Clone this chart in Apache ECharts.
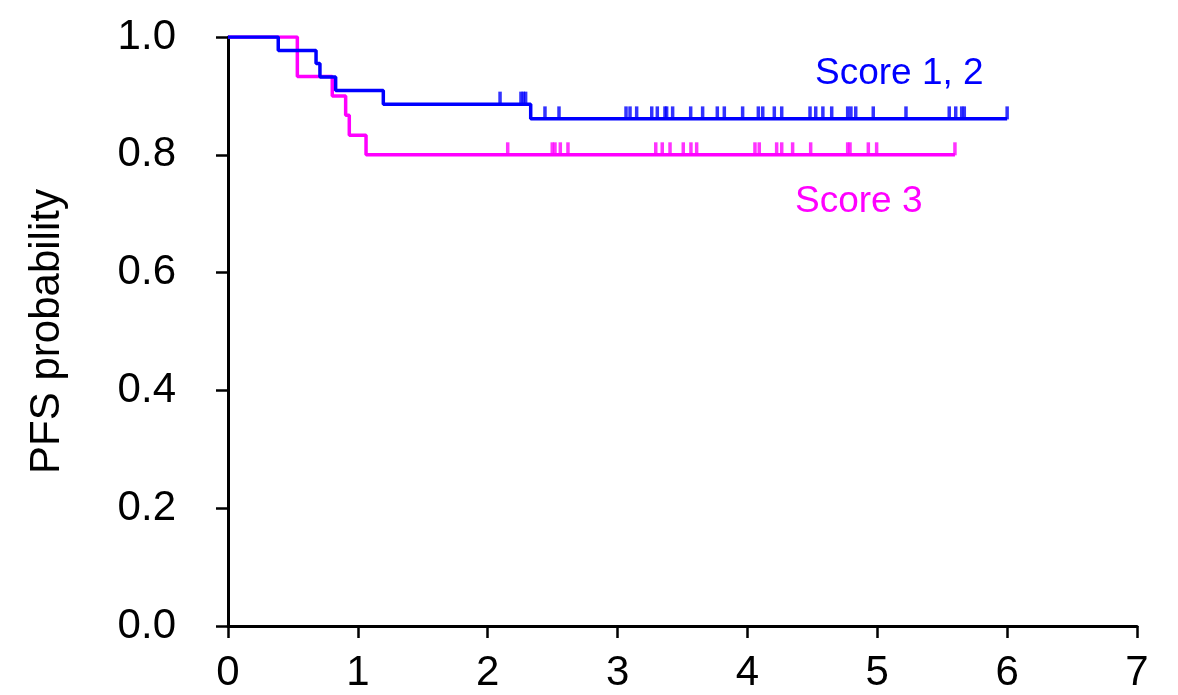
<!DOCTYPE html>
<html>
<head>
<meta charset="utf-8">
<script src="https://cdn.jsdelivr.net/npm/echarts@6/dist/echarts.min.js"></script>
<style>
html,body{margin:0;padding:0;background:#fff;}
#chart{width:1178px;height:695px;}
</style>
</head>
<body>
<div id="chart"></div>
<script>
// Score 1, 2 (blue) – event times and survival after each event
const blueEventTimes = [0.387, 0.678, 0.708, 0.829, 1.196, 2.331];
const blueEventSurv  = [0.977, 0.955, 0.932, 0.909, 0.886, 0.861];
const blueEndTime = 6.0;
const blueCensor = [2.095, 2.256, 2.274, 2.292, 2.441, 2.549, 3.065, 3.096, 3.147,
  3.263, 3.306, 3.365, 3.378, 3.424, 3.563, 3.655, 3.768, 3.822, 3.963,
  4.084, 4.118, 4.207, 4.264, 4.482, 4.526, 4.581, 4.649, 4.772, 4.797,
  4.834, 4.969, 5.221, 5.554, 5.604, 5.650, 5.670, 6.0];

// Score 3 (magenta)
const magEventTimes = [0.534, 0.803, 0.906, 0.934, 1.063];
const magEventSurv  = [0.933, 0.900, 0.867, 0.833, 0.800];
const magEndTime = 5.598;
const magCensor = [2.154, 2.497, 2.518, 2.559, 2.618, 3.294, 3.344, 3.404, 3.506,
  3.565, 3.609, 4.058, 4.091, 4.225, 4.264, 4.348, 4.487, 4.772, 4.790,
  4.931, 4.995, 5.598];

const xTicks = [0, 1, 2, 3, 4, 5, 6, 7];
const yTicks = [0.0, 0.2, 0.4, 0.6, 0.8, 1.0];

const seriesNames = ['Score 1, 2', 'Score 3'];
const BLUE = '#0000FF', MAG = '#FF00FF';
const FONT = 'Liberation Sans, Arial, sans-serif';

function stepData(times, surv, end) {
  const d = [[0, 1]];
  for (let i = 0; i < times.length; i++) d.push([times[i], surv[i]]);
  d.push([end, surv[surv.length - 1]]);
  return d;
}
function survAt(times, surv, t) {
  let s = 1;
  for (let i = 0; i < times.length; i++) if (times[i] <= t) s = surv[i];
  return s;
}
function censorData(times, surv, cens) {
  return cens.map(t => [t, survAt(times, surv, t)]);
}

const chart = echarts.init(document.getElementById('chart'), null, {renderer: 'canvas'});
chart.setOption({
  animation: false,
  backgroundColor: '#fff',
  grid: {left: 228, right: 41, top: 37, bottom: 69},
  xAxis: {
    type: 'value', min: 0, max: 7, interval: 1,
    axisLine: {show: true, onZero: false, lineStyle: {color: '#000', width: 3}},
    axisTick: {show: true, length: 12, lineStyle: {color: '#000', width: 2.5}},
    axisLabel: {color: '#000', fontSize: 42, fontFamily: FONT, margin: 26,
      formatter: v => xTicks.includes(v) ? String(v) : ''},
    splitLine: {show: false}
  },
  yAxis: {
    type: 'value', min: 0, max: 1, interval: 0.2,
    name: 'PFS probability', nameLocation: 'middle', nameGap: 160, nameRotate: 90,
    nameTextStyle: {color: '#000', fontSize: 42, fontFamily: FONT},
    axisLine: {show: true, lineStyle: {color: '#000', width: 3}},
    axisTick: {show: true, length: 12, lineStyle: {color: '#000', width: 2.5}},
    axisLabel: {color: '#000', fontSize: 42, fontFamily: FONT, margin: 52,
      formatter: v => yTicks.some(t => Math.abs(t - v) < 1e-9) ? v.toFixed(1) : ''},
    splitLine: {show: false}
  },
  series: [
    {name: seriesNames[1], type: 'line', step: 'end', symbol: 'none',
      lineStyle: {color: MAG, width: 3.5}, data: stepData(magEventTimes, magEventSurv, magEndTime), z: 2},
    {name: seriesNames[0], type: 'line', step: 'end', symbol: 'none',
      lineStyle: {color: BLUE, width: 3.5}, data: stepData(blueEventTimes, blueEventSurv, blueEndTime), z: 3},
    {name: seriesNames[1] + ' censored', type: 'scatter', symbol: 'rect', symbolSize: [3.5, 13],
      symbolOffset: [0, -6], itemStyle: {color: MAG}, data: censorData(magEventTimes, magEventSurv, magCensor), z: 4},
    {name: seriesNames[0] + ' censored', type: 'scatter', symbol: 'rect', symbolSize: [3.5, 13],
      symbolOffset: [0, -6], itemStyle: {color: BLUE}, data: censorData(blueEventTimes, blueEventSurv, blueCensor), z: 5}
  ],
  graphic: [
    {type: 'text', left: 815, top: 55, style: {text: seriesNames[0], fill: BLUE, fontSize: 37, fontFamily: FONT}},
    {type: 'text', left: 795, top: 183, style: {text: seriesNames[1], fill: MAG, fontSize: 37, fontFamily: FONT}}
  ]
});
</script>
</body>
</html>
